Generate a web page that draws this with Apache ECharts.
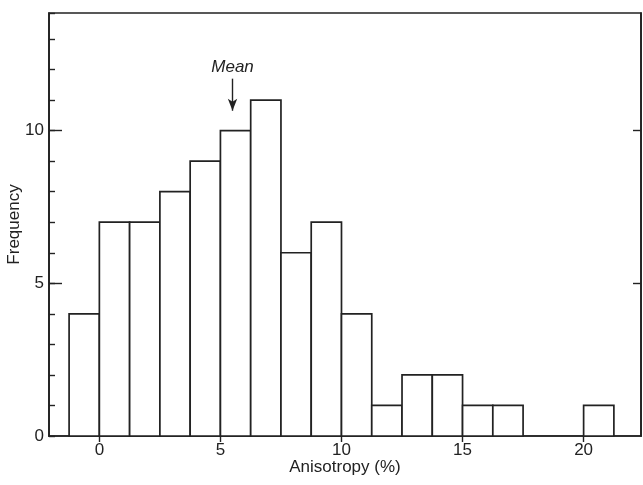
<!DOCTYPE html>
<html>
<head>
<meta charset="utf-8">
<script src="https://cdn.jsdelivr.net/npm/echarts@6/dist/echarts.min.js"></script>
<style>
  html, body { margin: 0; padding: 0; background: #fff; }
  #histChart { width: 643px; height: 485px; }
</style>
</head>
<body>
<div id="histChart"></div>
<script>
// histogram bins (Anisotropy %), edges + counts
var binEdges = [-1.25, 0, 1.25, 2.5, 3.75, 5, 6.25, 7.5, 8.75, 10, 11.25, 12.5, 13.75, 15, 16.25, 17.5, 18.75, 20, 21.25];
var binCounts = [4, 7, 7, 8, 9, 10, 11, 6, 7, 4, 1, 2, 2, 1, 1, 0, 0, 1];
var xTicks = [0, 5, 10, 15, 20];
var yTicks = [0, 5, 10];
var meanValue = 5.5;

var lineColor = "#222";
var textColor = "#222";
var textFont = "Liberation Sans";

var histData = [];
for (var i = 0; i < binCounts.length; i++) {
  if (binCounts[i] > 0) {
    histData.push([binEdges[i], binEdges[i + 1], binCounts[i]]);
  }
}

var histChart = echarts.init(document.getElementById("histChart"));
var histOption = {
  animation: false,
  backgroundColor: "#fff",
  grid: {
    left: 49,
    right: 2,
    top: 13,
    bottom: 49,
    outerBoundsMode: "none",
    containLabel: false,
    show: true,
    borderColor: lineColor,
    borderWidth: 1.7,
  },
  xAxis: {
    type: "value",
    min: -2.08,
    max: 22.37,
    name: "Anisotropy (%)",
    nameLocation: "middle",
    nameGap: 23,
    nameMoveOverlap: false,
    nameTextStyle: { fontFamily: textFont, fontSize: 17, color: textColor },
    axisLine: { show: true, onZero: false, lineStyle: { color: lineColor, width: 1.7 } },
    axisTick: { show: true, length: 6, customValues: xTicks, lineStyle: { color: lineColor, width: 1.4 } },
    axisLabel: { customValues: xTicks, margin: 6, fontFamily: textFont, fontSize: 17, color: textColor },
    splitLine: { show: false },
  },
  yAxis: [
    {
      type: "value",
      min: 0,
      max: 13.85,
      interval: 1,
      name: "Frequency",
      nameLocation: "middle",
      nameGap: 26,
      nameMoveOverlap: false,
      nameTextStyle: { fontFamily: textFont, fontSize: 17, color: textColor },
      axisLine: { show: true, onZero: false, lineStyle: { color: lineColor, width: 1.7 } },
      axisTick: { show: true, inside: true, length: 6, lineStyle: { color: lineColor, width: 1.4 } },
      axisLabel: { customValues: yTicks, margin: 5, fontFamily: textFont, fontSize: 17, color: textColor },
      splitLine: { show: false },
    },
    {
      // longer ticks at 5 and 10
      type: "value",
      min: 0,
      max: 13.85,
      position: "left",
      axisLine: { show: false, onZero: false },
      axisTick: { show: true, inside: true, length: 13, customValues: [5, 10], lineStyle: { color: lineColor, width: 1.4 } },
      axisLabel: { show: false },
      splitLine: { show: false },
    },
    {
      // right frame ticks
      type: "value",
      min: 0,
      max: 13.85,
      position: "right",
      axisLine: { show: true, onZero: false, lineStyle: { color: lineColor, width: 1.7 } },
      axisTick: { show: true, inside: true, length: 8, customValues: [5, 10], lineStyle: { color: lineColor, width: 1.4 } },
      axisLabel: { show: false },
      splitLine: { show: false },
    },
  ],
  series: [
    {
      type: "custom",
      renderItem: function (params, api) {
        var p0 = api.coord([api.value(0), 0]);
        var p1 = api.coord([api.value(1), api.value(2)]);
        return {
          type: "rect",
          shape: { x: p0[0], y: p1[1], width: p1[0] - p0[0], height: p0[1] - p1[1] },
          style: { fill: "#fff", stroke: lineColor, lineWidth: 1.7 },
        };
      },
      encode: { x: [0, 1], y: 2 },
      data: histData,
      markLine: {
        silent: true,
        symbol: ["none", "arrow"],
        symbolSize: [7, 12],
        lineStyle: { color: lineColor, width: 1.4, type: "solid" },
        label: {
          show: true,
          position: "start",
          formatter: "Mean",
          distance: 3,
          fontFamily: textFont,
          fontStyle: "italic",
          fontSize: 17,
          color: textColor,
        },
        data: [
          [
            { coord: [meanValue, 11.7] },
            { coord: [meanValue, 10.65] },
          ],
        ],
      },
    },
  ],
};
histChart.setOption(histOption);
</script>
</body>
</html>
